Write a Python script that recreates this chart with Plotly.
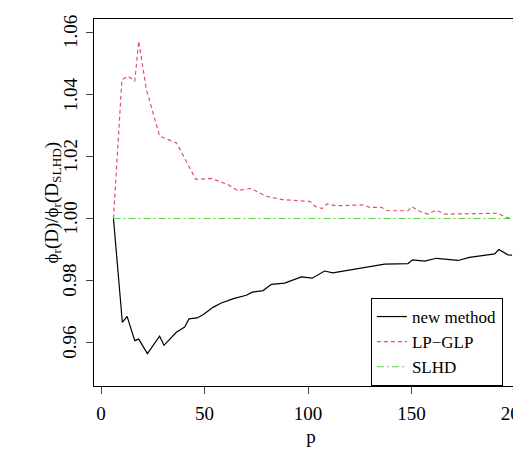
import plotly.graph_objects as go

# p values and ratios
p_new = [6, 10.3, 12.6, 16.3, 18.2, 22.4, 28.3, 30.4, 36.4, 40.4, 42.5, 46.4, 49.3,
         54.1, 58.1, 64, 70.2, 73.1, 78.3, 82.3, 88.7, 96.8, 102, 108, 112, 126.6,
         132.2, 137, 148.3, 150.5, 156.4, 162, 172.5, 178, 190.2, 192.2, 196.6, 198.6]
new_method = [1.000, 0.9666, 0.9685, 0.9607, 0.9612, 0.9565, 0.9621, 0.9592, 0.9634,
              0.9651, 0.9677, 0.9680, 0.9690, 0.9714, 0.9728, 0.9742, 0.9753, 0.9763,
              0.9768, 0.9788, 0.9792, 0.9812, 0.9808, 0.9831, 0.9825, 0.9841, 0.9849,
              0.9853, 0.9855, 0.9867, 0.9863, 0.9872, 0.9865, 0.9875, 0.9886, 0.9900,
              0.9883, 0.9882]

p_lp = [6, 10.1, 13, 16.3, 18.2, 21.9, 28.3, 32.4, 36.5, 45.8, 53.3, 61.4, 66, 72.5,
        79.5, 87.5, 100.8, 103.5, 106.8, 109.2, 113.7, 126.6, 129.8, 135.4, 138.6,
        148.3, 150.2, 154.7, 158, 162, 166, 191.8, 195, 198.2]
lp_glp = [1.000, 1.0447, 1.0458, 1.0442, 1.0571, 1.0415, 1.0265, 1.0254, 1.0243,
          1.0126, 1.0129, 1.0109, 1.0090, 1.0097, 1.0072, 1.0061, 1.0055, 1.0039,
          1.0032, 1.0047, 1.0041, 1.0044, 1.0036, 1.0036, 1.0025, 1.0025, 1.0038,
          1.0021, 1.0014, 1.0027, 1.0014, 1.0017, 1.0005, 1.000]

p_slhd = [6, 200]
slhd = [1.0, 1.0]

x_ticks = [0, 50, 100, 150, 200]
y_ticks = [0.96, 0.98, 1.00, 1.02, 1.04, 1.06]

fig = go.Figure()
fig.add_trace(go.Scatter(x=p_new, y=new_method, mode="lines", name="new method",
                         line=dict(color="black", width=1.2)))
fig.add_trace(go.Scatter(x=p_lp, y=lp_glp, mode="lines", name="LP\u2212GLP",
                         line=dict(color="#DF536B", width=1.2, dash="4px,3px")))
fig.add_trace(go.Scatter(x=p_slhd, y=slhd, mode="lines", name="SLHD",
                         line=dict(color="#61D04F", width=1.2, dash="7px,3px,2px,3px")))

font = "Liberation Serif"
fs = 19
fig.update_layout(
    width=521, height=462,
    margin=dict(l=86, r=1, t=11, b=84),
    plot_bgcolor="white", paper_bgcolor="white",
    font=dict(family=font, size=fs, color="black"),
    showlegend=True,
    legend=dict(x=0.638, y=0, xanchor="left", yanchor="bottom",
                bordercolor="black", borderwidth=1, bgcolor="white",
                font=dict(family=font, size=17), itemwidth=30, tracegroupgap=0),
    xaxis=dict(range=[-3.4, 206.3], tickvals=x_ticks, ticks="outside", ticklen=7,
               showgrid=False, zeroline=False, showline=True, mirror=True,
               linecolor="black", linewidth=1, ticklabelstandoff=3,
               ticklabeloverflow="allow",
               tickfont=dict(family=font, size=fs),
               title=dict(text="p", standoff=6, font=dict(family=font, size=fs))),
    yaxis=dict(range=[0.9461, 1.0642], tickvals=y_ticks, showticklabels=False,
               ticks="outside", ticklen=7,
               showgrid=False, zeroline=False, showline=True, mirror=True,
               linecolor="black", linewidth=1),
)

# y tick labels, rotated like R's default
for v in y_ticks:
    fig.add_annotation(x=0, xref="paper", y=v, yref="y", text=f"{v:.2f}",
                       showarrow=False, textangle=-90, xanchor="center",
                       yanchor="middle", xshift=-24,
                       font=dict(family=font, size=fs))

fig.add_annotation(x=0, xref="paper", y=0.5, yref="paper",
                   text="\u03d5<sub>r</sub>(D)/\u03d5<sub>r</sub>(D<sub>SLHD</sub>)",
                   showarrow=False, textangle=-90, xshift=-56,
                   font=dict(family=font, size=fs))

fig.write_html("out.html")
